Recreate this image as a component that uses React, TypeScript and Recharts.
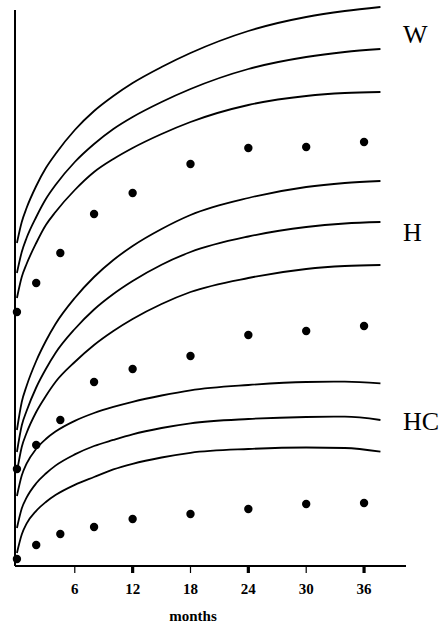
import React from "react";
import {
  ComposedChart,
  Line,
  Scatter,
  XAxis,
  YAxis,
  ReferenceLine,
  Customized,
} from "recharts";

// Age in months at which each reference curve is sampled
const CURVE_MONTHS = [0, 0.5, 1, 2, 3, 4, 6, 8, 10, 12, 15, 18, 24, 30, 34, 37.7];

// Weight reference curves (upper, middle, lower)
const weightHigh = [323, 344, 358, 380, 398, 412, 436, 455, 470, 483, 499, 513, 535, 549, 555, 559];
const weightMid = [293, 314, 328, 349, 367, 381, 404, 422, 437, 449, 464, 477, 497, 509, 514, 517];
const weightLow = [268, 289, 302, 323, 341, 354, 376, 394, 407, 418, 432, 444, 461, 470, 473, 474];

// Height reference curves
const heightHigh = [136, 164, 180, 205, 225, 242, 268, 289, 306, 320, 337, 351, 368, 379, 383, 385];
const heightMid = [114, 140.5, 155, 178.5, 197, 213, 237, 256.5, 272, 285, 301.3, 314, 329.5, 339, 342.5, 344];
const heightLow = [94, 119, 133, 154, 170, 184, 204, 221, 235, 247, 262, 274, 288, 297, 300, 301];

// Head circumference reference curves
const headHigh = [70, 90.5, 102.3, 117.2, 127, 134.4, 145.1, 153, 159.1, 164.2, 170.5, 175.7, 181, 184, 184.3, 182.7];
const headMid = [38, 57.5, 68.3, 82.7, 92.5, 100.4, 111.6, 120, 126.1, 131.7, 138, 142.7, 147, 149, 149.3, 146];
const headLow = [13, 31.5, 42.3, 55.2, 64, 70.9, 81.1, 89, 96.6, 102.2, 108.5, 113.2, 117, 118.5, 118, 114.3];

// Measurements of the child at each visit
const VISIT_MONTHS = [0, 2, 4.5, 8, 12, 18, 24, 30, 36];
const weightVisits = [254, 283, 313, 352, 373, 402, 418, 419, 424];
const heightVisits = [97, 121, 146, 184, 197, 210, 231, 235, 240];
const headVisits = [7, 21, 32, 39, 47, 52, 57, 62, 63];

const MONTH_TICKS = [6, 12, 18, 24, 30, 36];

const CURVES = [weightHigh, weightMid, weightLow, heightHigh, heightMid, heightLow, headHigh, headMid, headLow];
const VISITS = [weightVisits, heightVisits, headVisits];

const WIDTH = 442;
const HEIGHT = 624;
const X_AXIS_HEIGHT = 58;
const AXIS_Y = HEIGHT - X_AXIS_HEIGHT;
const X_MIN = -0.2;
const X_MAX = 40.35;
const Y_TOP = 561;
const Y_AXIS_TOP = 556;

const SERIF = "'Liberation Serif', 'Times New Roman', serif";

const curvePoints = (vals: number[]) => CURVE_MONTHS.map((m, i) => ({ m, v: vals[i] }));
const visitPoints = (vals: number[]) => VISIT_MONTHS.map((m, i) => ({ m, v: vals[i] }));

const MonthTick = (props: any) => {
  const { x, payload } = props;
  const heavy = payload.value % 12 === 0;
  return (
    <g>
      <line
        x1={x}
        x2={x}
        y1={AXIS_Y}
        y2={AXIS_Y + 7}
        stroke="#000"
        strokeWidth={heavy ? 3.2 : 1.2}
      />
      <text
        x={x}
        y={AXIS_Y + 28}
        textAnchor="middle"
        fontFamily={SERIF}
        fontWeight="bold"
        fontSize={15}
        fill="#000"
      >
        {payload.value}
      </text>
    </g>
  );
};

const Dot = (props: any) => {
  const { cx, cy } = props;
  return <circle cx={cx} cy={cy} r={4.2} fill="#000" />;
};

const SideLabels = () => (
  <g fontFamily={SERIF} fontSize={26} fill="#000">
    <text x={403} y={43}>W</text>
    <text x={403} y={241}>H</text>
    <text x={403} y={430}>HC</text>
    <text
      x={193}
      y={621}
      textAnchor="middle"
      fontSize={15}
      fontWeight="bold"
    >
      months
    </text>
  </g>
);

export default function App() {
  return (
    <div style={{ position: "absolute", left: 0, top: 0, background: "#fff" }}>
      <ComposedChart
        width={WIDTH}
        height={HEIGHT}
        margin={{ top: 5, right: 36, left: 15, bottom: 0 }}
      >
        <XAxis
          type="number"
          dataKey="m"
          domain={[X_MIN, X_MAX]}
          ticks={MONTH_TICKS}
          height={X_AXIS_HEIGHT}
          axisLine={{ stroke: "#000", strokeWidth: 2 }}
          tickLine={false}
          tick={<MonthTick />}
          interval={0}
        />
        <YAxis type="number" dataKey="v" domain={[0, Y_TOP]} hide />
        <ReferenceLine
          segment={[
            { x: X_MIN, y: 0 },
            { x: X_MIN, y: Y_AXIS_TOP },
          ]}
          stroke="#000"
          strokeWidth={2}
          ifOverflow="visible"
        />
        {CURVES.map((vals, i) => (
          <Line
            key={`curve-${i}`}
            data={curvePoints(vals)}
            dataKey="v"
            type="monotone"
            stroke="#000"
            strokeWidth={1.8}
            dot={false}
            activeDot={false}
            isAnimationActive={false}
          />
        ))}
        {VISITS.map((vals, i) => (
          <Scatter
            key={`visits-${i}`}
            data={visitPoints(vals)}
            dataKey="v"
            fill="#000"
            shape={<Dot />}
            isAnimationActive={false}
          />
        ))}
        <Customized component={<SideLabels />} />
      </ComposedChart>
    </div>
  );
}
